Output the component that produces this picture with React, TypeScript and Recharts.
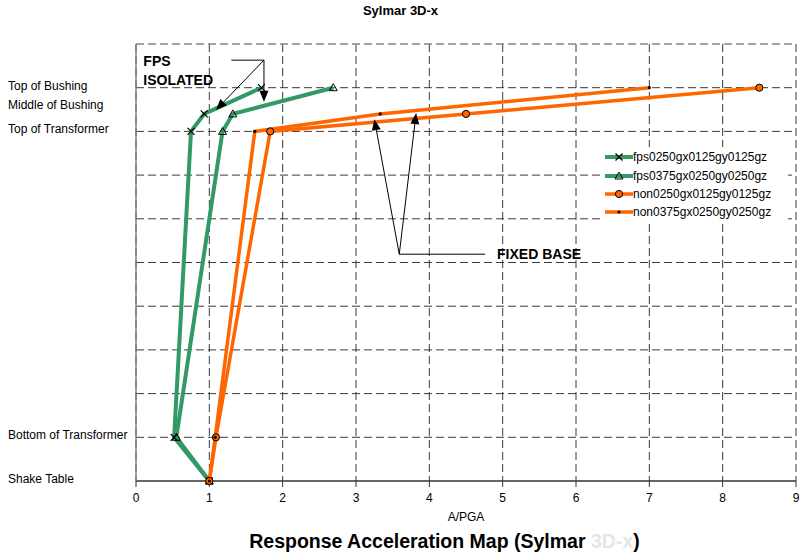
import React from 'react';
import { LineChart, Line, XAxis, YAxis, CartesianGrid, ReferenceLine, Legend } from 'recharts';

// ---------- data ----------
const levelHeights = [0, 1, 8, 8.4, 9];
const levelTickValues = [0, 1, 8, 8.55, 9];
const levelTickLabels = ['Shake Table', 'Bottom of Transformer', 'Top of Transformer', 'Middle of Bushing', 'Top of Bushing'];
const gridValuesY = [1, 2, 3, 4, 5, 6, 7, 8, 9, 10];
const xTickValues = [0, 1, 2, 3, 4, 5, 6, 7, 8, 9];

const seriesNames = ['fps0250gx0125gy0125gz', 'fps0375gx0250gy0250gz', 'non0250gx0125gy0125gz', 'non0375gx0250gy0250gz'];
const fps0250Values = [1.0, 0.52, 0.75, 0.93, 1.71];
const fps0375Values = [1.0, 0.55, 1.18, 1.32, 2.69];
const non0250Values = [1.0, 1.09, 1.83, 4.5, 8.5];
const non0375Values = [1.0, 1.08, 1.62, 3.33, 7.0];

// annotation anchor points (data space)
const fpsLeader = [{ x: 1.3, y: 9.63 }, { x: 1.745, y: 9.63 }];
const fpsArrowTargets = [{ x: 1.09, y: 8.49 }, { x: 1.745, y: 8.68 }];
const fixedLeader = [{ x: 3.59, y: 5.19 }, { x: 4.76, y: 5.19 }];
const fixedArrowTargets = [{ x: 3.25, y: 8.28 }, { x: 3.82, y: 8.42 }];

const title = 'Sylmar 3D-x';
const xLabel = 'A/PGA';

// ---------- styles ----------
const FONT = '"Liberation Sans", Arial, Helvetica, sans-serif';
const GREEN = '#339966';
const ORANGE = '#ff6600';
const GRID = '#3a3a3a';

type MarkerKind = 'cross' | 'triangle' | 'circle' | 'dot';

const seriesDefs = [
  { name: seriesNames[0], values: fps0250Values, color: GREEN, width: 4, marker: 'cross' as MarkerKind },
  { name: seriesNames[1], values: fps0375Values, color: GREEN, width: 4, marker: 'triangle' as MarkerKind },
  { name: seriesNames[2], values: non0250Values, color: ORANGE, width: 3.5, marker: 'circle' as MarkerKind },
  { name: seriesNames[3], values: non0375Values, color: ORANGE, width: 3.5, marker: 'dot' as MarkerKind },
];

function Marker({ kind, cx, cy }: { kind: MarkerKind; cx: number; cy: number }) {
  if (cx == null || cy == null || isNaN(cx) || isNaN(cy)) return null;
  if (kind === 'cross') {
    const s = 3.5;
    return (
      <g>
        <line x1={cx - s} y1={cy - s} x2={cx + s} y2={cy + s} stroke="#000" strokeWidth={1.2} />
        <line x1={cx - s} y1={cy + s} x2={cx + s} y2={cy - s} stroke="#000" strokeWidth={1.2} />
      </g>
    );
  }
  if (kind === 'triangle') {
    const s = 4;
    return (
      <polygon
        points={`${cx},${cy - s} ${cx + s},${cy + s * 0.75} ${cx - s},${cy + s * 0.75}`}
        fill="none"
        stroke="#000"
        strokeWidth={1}
      />
    );
  }
  if (kind === 'circle') {
    return <circle cx={cx} cy={cy} r={3.6} fill={ORANGE} stroke="#000" strokeWidth={1} />;
  }
  return <circle cx={cx} cy={cy} r={1.6} fill="#000" />;
}

const ArrowShape = (props: any) => {
  const { x1, y1, x2, y2 } = props;
  const ang = Math.atan2(y2 - y1, x2 - x1);
  const L = 11;
  const W = 4.5;
  const c = Math.cos(ang);
  const s = Math.sin(ang);
  const bx = x2 - L * c;
  const by = y2 - L * s;
  return (
    <g>
      <line x1={x1} y1={y1} x2={bx} y2={by} stroke="#000" strokeWidth={1} />
      <polygon points={`${x2},${y2} ${bx + W * s},${by - W * c} ${bx - W * s},${by + W * c}`} fill="#000" />
    </g>
  );
};

const FpsLeaderShape = (props: any) => {
  const { x1, y1, x2, y2 } = props;
  return (
    <g>
      <line x1={x1} y1={y1} x2={x2} y2={y2} stroke="#000" strokeWidth={1} />
      <text x={x1 - 88} y={y1 + 6} fontFamily={FONT} fontWeight="bold" fontSize={14} fill="#000">FPS</text>
      <text x={x1 - 88} y={y1 + 25} fontFamily={FONT} fontWeight="bold" fontSize={14} fill="#000">ISOLATED</text>
    </g>
  );
};

const FixedLeaderShape = (props: any) => {
  const { x1, y1, x2, y2 } = props;
  return (
    <g>
      <line x1={x1} y1={y1} x2={x2} y2={y2} stroke="#000" strokeWidth={1} />
      <text x={x2 + 12} y={y2 + 5} fontFamily={FONT} fontWeight="bold" fontSize={14} fill="#000">FIXED BASE</text>
    </g>
  );
};

const YLevelTick = (props: any) => {
  const { y, payload } = props;
  const idx = levelTickValues.indexOf(payload.value);
  const label = idx >= 0 ? levelTickLabels[idx] : '';
  return (
    <text x={8} y={y} dy={2} textAnchor="start" fontFamily={FONT} fontSize={12} fill="#000">
      {label}
    </text>
  );
};

const renderLegend = () => (
  <div style={{ background: '#fff', paddingLeft: 5, paddingTop: 1 }}>
    {seriesDefs.map((s) => (
      <div key={s.name} style={{ display: 'flex', alignItems: 'center', height: 18.4 }}>
        <svg width={28} height={10} style={{ display: 'block' }}>
          <line x1={0} y1={5} x2={28} y2={5} stroke={s.color} strokeWidth={s.width} />
          <Marker kind={s.marker} cx={14} cy={5} />
        </svg>
        <span style={{ fontFamily: FONT, fontSize: 12, color: '#000', whiteSpace: 'nowrap' }}>{s.name}</span>
      </div>
    ))}
  </div>
);

export default function App() {
  return (
    <div style={{ position: 'absolute', left: 0, top: 0, width: 801, height: 554, background: '#fff', overflow: 'hidden' }}>
      <div
        style={{
          position: 'absolute', left: 0, top: 3, width: 801, textAlign: 'center',
          fontFamily: FONT, fontWeight: 'bold', fontSize: 13, color: '#000',
        }}
      >
        {title}
      </div>
      <LineChart width={801} height={554} margin={{ top: 44, right: 5, left: 0, bottom: 0 }}>
        <CartesianGrid horizontal={false} stroke={GRID} strokeDasharray="8 4" />
        {gridValuesY.map((v) => (
          <ReferenceLine
            key={`gy${v}`}
            y={v}
            stroke={v === 10 ? '#888' : GRID}
            strokeWidth={v === 10 ? 1.5 : 1}
            strokeDasharray="8 4"
          />
        ))}
        <XAxis
          dataKey="x"
          type="number"
          domain={[0, 9]}
          ticks={xTickValues}
          interval={0}
          height={73}
          allowDuplicatedCategory={false}
          axisLine={{ stroke: '#333', strokeWidth: 1.5 }}
          tickLine={{ stroke: '#333' }}
          tickSize={6}
          tickMargin={6}
          tick={{ fontFamily: FONT, fontSize: 12, fill: '#000' }}
        />
        <YAxis
          type="number"
          domain={[0, 10]}
          ticks={levelTickValues}
          interval={0}
          width={136}
          axisLine={{ stroke: '#808080', strokeWidth: 1.5 }}
          tickLine={false}
          tick={YLevelTick}
        />
        {seriesDefs.map((s) => (
          <Line
            key={s.name}
            name={s.name}
            data={s.values.map((v, i) => ({ x: v, y: levelHeights[i] }))}
            dataKey="y"
            type="linear"
            stroke={s.color}
            strokeWidth={s.width}
            isAnimationActive={false}
            dot={(p: any) => <Marker key={`${s.name}-${p.index}`} kind={s.marker} cx={p.cx} cy={p.cy} />}
            activeDot={false}
            legendType="line"
          />
        ))}
        <ReferenceLine segment={fpsLeader} shape={FpsLeaderShape} />
        {fpsArrowTargets.map((t, i) => (
          <ReferenceLine key={`fa${i}`} segment={[fpsLeader[1], t]} shape={ArrowShape} />
        ))}
        <ReferenceLine segment={fixedLeader} shape={FixedLeaderShape} />
        {fixedArrowTargets.map((t, i) => (
          <ReferenceLine key={`xa${i}`} segment={[fixedLeader[0], t]} shape={ArrowShape} />
        ))}
        <Legend
          layout="vertical"
          align="center"
          verticalAlign="middle"
          content={renderLegend}
          wrapperStyle={{ position: 'absolute', left: 600, top: 147, width: 188, height: 76, background: '#fff' }}
        />
      </LineChart>
      <div
        style={{
          position: 'absolute', left: 136, width: 660, top: 510, textAlign: 'center',
          fontFamily: FONT, fontSize: 12, color: '#000',
        }}
      >
        {xLabel}
      </div>
      <div
        style={{
          position: 'absolute', left: 44, width: 801, top: 530, textAlign: 'center',
          fontFamily: FONT, fontWeight: 'bold', fontSize: 19.5, color: '#000', whiteSpace: 'nowrap',
        }}
      >
        Response Acceleration Map (Sylmar <span style={{ color: '#e6e6e6' }}>3D-x</span>)
      </div>
    </div>
  );
}
